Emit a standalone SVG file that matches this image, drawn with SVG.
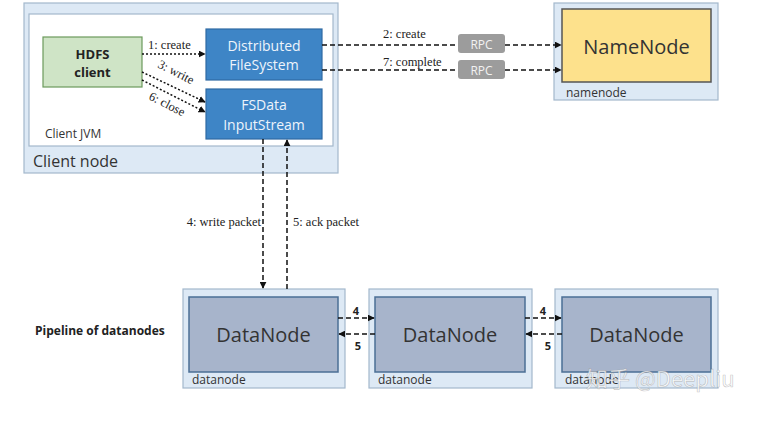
<svg xmlns="http://www.w3.org/2000/svg" width="767" height="428" viewBox="0 0 767 428">
<defs>
<style>
.outer{fill:#dde9f5;stroke:#a3b8cc;stroke-width:1.2}
.inner{fill:#ffffff;stroke:#a3b8cc;stroke-width:1.2}
.blue{fill:#3e85c6;stroke:#2f6aa3;stroke-width:1.2}
.dn{fill:#a7b4cb;stroke:#4b6f95;stroke-width:1.5}
.sans{font-family:"Open Sans","Noto Sans","Liberation Sans",sans-serif}
.serif{font-family:"Liberation Serif","DejaVu Serif",serif;font-size:12.5px;fill:#222}
.wt{fill:#eef4fb;font-size:14px;text-anchor:middle}
.dash{stroke:#111;stroke-width:1.5;stroke-dasharray:5 3;fill:none}
.dot{stroke:#111;stroke-width:1.5;stroke-dasharray:2 2;fill:none}
</style>
<marker id="ah" viewBox="0 0 10 10" refX="9" refY="5" markerWidth="7" markerHeight="7" orient="auto" markerUnits="userSpaceOnUse">
<path d="M0,0 L10,5 L0,10 z" fill="#111"/>
</marker>
</defs>
<rect width="767" height="428" fill="#ffffff"/>

<g id="client-node">
<rect class="outer" x="24" y="3" width="314" height="170"/>
<rect class="inner" x="29" y="14" width="304" height="132"/>
<text class="sans" x="45" y="138" font-size="12" fill="#333">Client JVM</text>
<text class="sans" x="33" y="167" font-size="16" fill="#333">Client node</text>
</g>

<g id="hdfs-client">
<rect x="43" y="37" width="99" height="50" fill="#cfe4c6" stroke="#6c9a5c" stroke-width="1.2"/>
<text class="sans" x="92.5" y="59" font-size="13" font-weight="bold" fill="#222" text-anchor="middle">HDFS</text>
<text class="sans" x="92.5" y="77" font-size="13" font-weight="bold" fill="#222" text-anchor="middle">client</text>
</g>

<g id="distributed-fs">
<rect class="blue" x="206" y="29" width="116" height="51"/>
<text class="sans wt" x="264" y="51">Distributed</text>
<text class="sans wt" x="264" y="70">FileSystem</text>
</g>

<g id="fsdata-stream">
<rect class="blue" x="206" y="89" width="116" height="50"/>
<text class="sans wt" x="264" y="110">FSData</text>
<text class="sans wt" x="264" y="130">InputStream</text>
</g>

<g id="namenode">
<rect class="outer" x="554" y="3" width="164" height="97"/>
<rect x="562" y="9" width="149" height="73" fill="#fde18c" stroke="#555" stroke-width="1.5"/>
<text class="sans" x="636.5" y="54" font-size="20" fill="#333" text-anchor="middle">NameNode</text>
<text class="sans" x="566" y="97" font-size="12" fill="#333">namenode</text>
</g>

<g id="rpc1">
<rect x="458" y="34" width="47" height="19" rx="3" fill="#9c9c9c"/>
<text class="sans" x="481.5" y="48.5" font-size="12" fill="#f2f2f2" text-anchor="middle">RPC</text>
</g>
<g id="rpc2">
<rect x="458" y="60" width="47" height="19" rx="3" fill="#9c9c9c"/>
<text class="sans" x="481.5" y="74.5" font-size="12" fill="#f2f2f2" text-anchor="middle">RPC</text>
</g>

<g id="datanode1">
<rect class="outer" x="183" y="289" width="162" height="99"/>
<rect class="dn" x="189" y="297" width="149" height="75"/>
<text class="sans" x="263.5" y="342" font-size="20" fill="#333" text-anchor="middle">DataNode</text>
<text class="sans" x="192" y="384" font-size="12" fill="#333">datanode</text>
</g>
<g id="datanode2">
<rect class="outer" x="369" y="289" width="163" height="99"/>
<rect class="dn" x="375" y="297" width="150" height="75"/>
<text class="sans" x="450" y="342" font-size="20" fill="#333" text-anchor="middle">DataNode</text>
<text class="sans" x="378" y="384" font-size="12" fill="#333">datanode</text>
</g>
<g id="datanode3">
<rect class="outer" x="555" y="289" width="163" height="99"/>
<rect class="dn" x="562" y="297" width="149" height="75"/>
<text class="sans" x="636.5" y="342" font-size="20" fill="#333" text-anchor="middle">DataNode</text>
<text class="sans" x="565" y="384" font-size="12" fill="#333">datanode</text>
</g>

<text class="sans" x="35" y="335" font-size="12" font-weight="bold" fill="#222">Pipeline of datanodes</text>

<g id="connectors">
<line class="dot" x1="142" y1="54" x2="205" y2="54" marker-end="url(#ah)"/>
<line class="dot" x1="142" y1="72" x2="205" y2="102" marker-end="url(#ah)"/>
<line class="dot" x1="142" y1="80" x2="205" y2="112" marker-end="url(#ah)"/>
<line class="dash" x1="322" y1="45" x2="458" y2="45"/>
<line class="dash" x1="505" y1="45" x2="561" y2="45" marker-end="url(#ah)"/>
<line class="dash" x1="322" y1="70" x2="458" y2="70"/>
<line class="dash" x1="505" y1="70" x2="561" y2="70" marker-end="url(#ah)"/>
<line class="dash" x1="263" y1="139" x2="263" y2="288" marker-end="url(#ah)"/>
<line class="dash" x1="287" y1="289" x2="287" y2="140" marker-end="url(#ah)"/>
<line class="dash" x1="338" y1="318" x2="374" y2="318" marker-end="url(#ah)"/>
<line class="dash" x1="375" y1="334" x2="339" y2="334" marker-end="url(#ah)"/>
<line class="dash" x1="525" y1="318" x2="561" y2="318" marker-end="url(#ah)"/>
<line class="dash" x1="562" y1="334" x2="526" y2="334" marker-end="url(#ah)"/>
<text class="serif" x="148" y="49">1: create</text>
<text class="serif" transform="translate(157,67) rotate(27)">3: write</text>
<text class="serif" transform="translate(148,99) rotate(27)">6: close</text>
<text class="serif" x="383" y="38">2: create</text>
<text class="serif" x="383" y="66">7: complete</text>
<text class="serif" x="261" y="226" text-anchor="end">4: write packet</text>
<text class="serif" x="293" y="226">5: ack packet</text>
<text class="sans" x="356" y="315" font-size="11" font-weight="bold" fill="#222" text-anchor="middle">4</text>
<text class="sans" x="358" y="350" font-size="11" font-weight="bold" fill="#222" text-anchor="middle">5</text>
<text class="sans" x="543" y="315" font-size="11" font-weight="bold" fill="#222" text-anchor="middle">4</text>
<text class="sans" x="548" y="350" font-size="11" font-weight="bold" fill="#222" text-anchor="middle">5</text>
</g>

<text x="586" y="387" font-family="'Noto Sans CJK SC','Liberation Sans',sans-serif" font-size="22" fill="#ffffff" fill-opacity="0.8" stroke="#777" stroke-opacity="0.4" stroke-width="0.7">知乎 @Deepliu</text>
</svg>
